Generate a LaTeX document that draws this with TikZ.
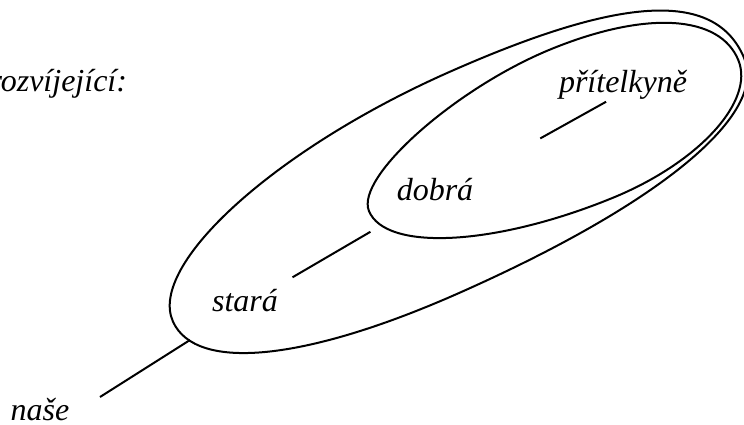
\documentclass[tikz,border=0pt]{standalone}
\usepackage{fontspec}
\setmainfont{Liberation Serif}
\usetikzlibrary{positioning,calc}

\begin{document}
\begin{tikzpicture}[x=0.5pt, y=-0.5pt, line width=1pt, every node/.style={font=\fontsize{16}{19}\selectfont\itshape, inner sep=0pt}]
        \useasboundingbox (0,0) rectangle (744,424);

        \node[anchor=base east] (rozv) at (128,91) {rozvíjející:};
        \node[anchor=base] (pritel) at (623,92) {přítelkyně};
        \node[anchor=base] (dobra) at (435,200) {dobrá};
        \node[anchor=base] (stara) at (245,311) {stará};
        \node[anchor=base] (nase) at (40,420) {naše};

        % outer curve
        \begin{scope}[shift={(457,190)}, rotate=23.9]
        \draw (316,-5) .. controls (317,-80) and (225,-111) .. (40,-111)
              .. controls (-150,-111) and (-313,-57) .. (-313,5)
              .. controls (-313,61) and (-207,95) .. (-40,95)
              .. controls (180,95) and (316,57) .. cycle;
        \end{scope}
        % inner curve
        \begin{scope}[shift={(556,140)}, rotate=22.2]
        \draw (199,-5) .. controls (199,-54) and (132.6,-86) .. (30,-86)
              .. controls (-73.5,-86) and (-200,-41.5) .. (-200,-5)
              .. controls (-200,39) and (-96.5,75) .. (30,75)
              .. controls (124,75) and (199,39) .. cycle;
        \end{scope}

        \coordinate (n1) at (100,397);
        \coordinate (o1) at (190,340);
        \draw (n1) -- (o1);
        \draw ($(stara)!.25!(dobra)+(0,5)$) -- ($(stara)!.66!(dobra)+(0,5)$);
        \draw ($(dobra)!.56!(pritel)+(0,8)$) -- ($(dobra)!.91!(pritel)+(0,8)$);
\end{tikzpicture}
\end{document}
